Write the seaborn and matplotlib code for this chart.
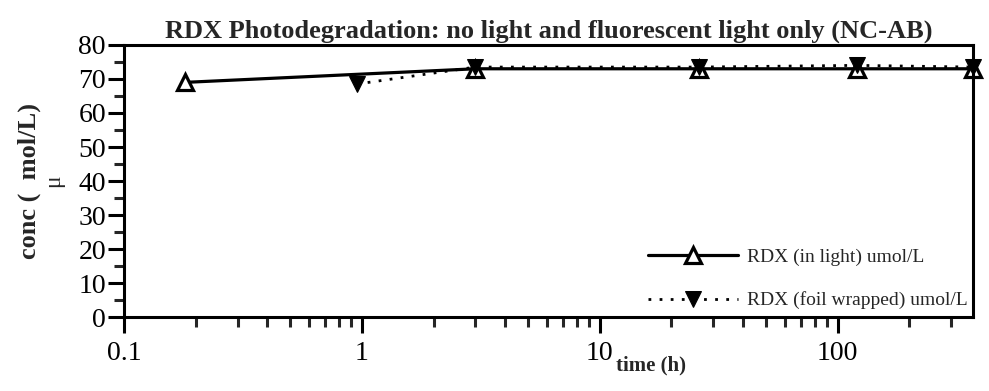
import numpy as np
import pandas as pd
import matplotlib
matplotlib.use("Agg")
import matplotlib.pyplot as plt
import seaborn as sns

# values
time_light = [0.18, 3.0, 26.0, 120.0, 370.0]
rdx_light = [69.0, 73.0, 73.0, 73.0, 73.0]
time_foil = [0.95, 3.0, 26.0, 120.0, 370.0]
rdx_foil = [68.5, 73.5, 73.5, 74.0, 73.5]

sns.set_style("ticks")
plt.rcParams['font.family'] = ['Liberation Serif', 'DejaVu Serif']

fig = plt.figure(figsize=(9.89, 3.91), dpi=100)
ax = fig.add_axes([0.1254, 0.189, 0.8584, 0.696])

sns.lineplot(x=time_light, y=rdx_light, ax=ax, color='black', linewidth=2.3,
             marker='^', markersize=11, markerfacecolor='white',
             markeredgecolor='black', markeredgewidth=2.3, clip_on=False,
             label='RDX (in light) umol/L')
sns.lineplot(x=time_foil, y=rdx_foil, ax=ax, color='black', linewidth=2.0,
             linestyle=(0, (1, 3)), marker='v', markersize=12,
             markerfacecolor='black', markeredgecolor='black', clip_on=False,
             label='RDX (foil wrapped) umol/L')

ax.set_xscale('log')
ax.set_xlim(0.1, 370)
ax.set_ylim(0, 80)
ax.set_yticks(np.arange(0, 81, 10))
ax.set_yticks(np.arange(5, 80, 10), minor=True)
ax.set_xticks([0.1, 1, 10, 100])
ax.set_xticklabels(['0.1', '1', '10', '100'])

for s in ax.spines.values():
    s.set_linewidth(2.2)
    s.set_color('black')
ax.tick_params(axis='both', which='major', width=2.2, labelsize=20, colors='black')
ax.tick_params(axis='y', which='major', length=11.5, pad=1.5)
ax.tick_params(axis='x', which='major', length=11.5, pad=6)
ax.tick_params(axis='both', which='minor', length=7, width=2.2)

ax.set_title('RDX Photodegradation: no light and fluorescent light only (NC-AB)',
             fontsize=19, fontweight='bold', pad=5)
ax.set_xlabel('')
ax.set_ylabel('')
# x label sits just right of the "10" tick label
fig.text(0.658, 0.066, 'time (h)', fontsize=15, fontweight='bold',
         ha='center', va='center')
fig.text(0.030, 0.537, 'conc (  mol/L)', rotation=90, fontsize=19,
         fontweight='bold', ha='center', va='center')
fig.text(0.054, 0.537, 'μ', rotation=90, fontsize=17, ha='center', va='center')

ax.legend(loc='lower right', bbox_to_anchor=(1.007, -0.011), frameon=False,
          fontsize=14, handlelength=4.6, handletextpad=0.5, labelspacing=1.3,
          borderaxespad=0.15)

fig.savefig('out.png', dpi=100)
plt.close('all')
